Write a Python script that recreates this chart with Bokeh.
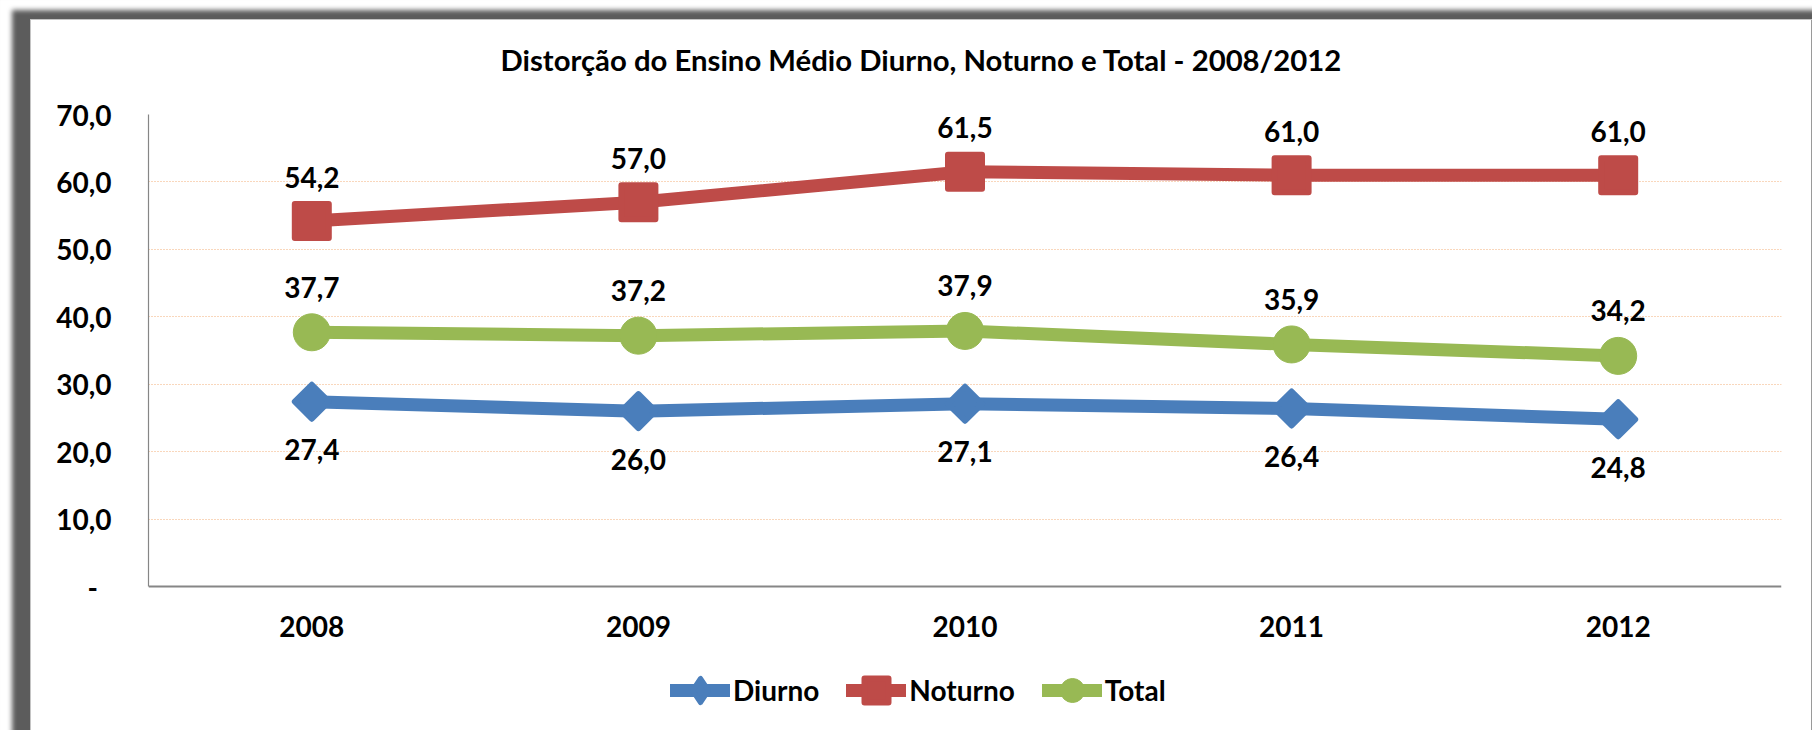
import math
from bokeh.plotting import figure
from bokeh.models import (ColumnDataSource, Range1d, FactorRange, FixedTicker,
                          Legend, LegendItem, Title)
from bokeh.core.properties import value
from bokeh.embed import file_html
from bokeh.resources import INLINE

# ---------------- data ----------------
years = ["2008", "2009", "2010", "2011", "2012"]
diurno = [27.4, 26.0, 27.1, 26.4, 24.8]
noturno = [54.2, 57.0, 61.5, 61.0, 61.0]
total = [37.7, 37.2, 37.9, 35.9, 34.2]
y_ticks = [0, 10, 20, 30, 40, 50, 60, 70]
y_tick_labels = ["-", "10,0", "20,0", "30,0", "40,0", "50,0", "60,0", "70,0"]
series_names = ["Diurno", "Noturno", "Total"]
title_text = "Distorção do Ensino Médio Diurno, Noturno e Total - 2008/2012"

# ---------------- style / layout ----------------
FONT = "Lato"
C_DIU, C_NOT, C_TOT = "#4A7EBB", "#BE4B48", "#98B954"
W, H = 1812, 730
FL, FR, FT = 148, 1781, 114          # frame edges in canvas px
AXIS_Y = 586                         # pixel row of the value 0 (category axis)
Y_MAX = 70
px_per_unit = (AXIS_Y - FT) / Y_MAX
y_lo = -(H - AXIS_Y) / px_per_unit   # frame runs to the bottom so the legend fits


def fmt(v):
    return f"{v:.1f}".replace(".", ",")


def make_source(vals):
    return ColumnDataSource(dict(x=years, y=vals, label=[fmt(v) for v in vals]))


p = figure(width=W, height=H,
           x_range=FactorRange(*years, range_padding=0),
           y_range=Range1d(y_lo, Y_MAX),
           output_backend="svg", toolbar_location=None,
           min_border_left=FL, min_border_right=W - FR,
           min_border_top=FT, min_border_bottom=0)
p.background_fill_color = "white"
p.border_fill_alpha = 0
p.outline_line_color = None
# grey, shadowed chart-frame border (drawn by the page behind the canvas)
p.styles = {
    "background-color": "white",
    "box-shadow": ("inset 12px 10px 5px 0px #ffffff, "
                   "inset 30px 19px 0px 0px #5c5c5c, "
                   "inset 31px 20px 0px 0px #c4c4c4, "
                   "inset -1px 0px 0px 0px #9a9a9a"),
}

# axes
p.yaxis.ticker = FixedTicker(ticks=y_ticks)
p.yaxis.bounds = (0, Y_MAX)
p.yaxis.major_label_overrides = {
    t: (lab if lab != "-" else lab + "\u00a0\u00a0")
    for t, lab in zip(y_ticks, y_tick_labels)
}
p.xaxis.fixed_location = 0
for ax in (p.xaxis[0], p.yaxis[0]):
    ax.major_tick_out = 0
    ax.major_tick_in = 0
    ax.minor_tick_out = 0
    ax.minor_tick_in = 0
    ax.axis_line_color = "#868686"
    ax.major_label_text_font = FONT
    ax.major_label_text_font_style = "bold"
    ax.major_label_text_font_size = "28px"
    ax.major_label_text_color = "black"
p.yaxis.axis_line_width = 1.2
p.xaxis.axis_line_width = 2
p.yaxis.major_label_standoff = 37
p.xaxis.major_label_standoff = 29

p.xgrid.visible = False
p.ygrid.ticker = FixedTicker(ticks=y_ticks[1:])
p.ygrid.grid_line_color = "#F3AE78"
p.ygrid.grid_line_dash = "1 2"
p.ygrid.grid_line_width = 1

# series
s_diu = make_source(diurno)
s_not = make_source(noturno)
s_tot = make_source(total)

line_kw = dict(line_width=13, line_join="round", line_cap="round")
l_diu = p.line("x", "y", source=s_diu, line_color=C_DIU, **line_kw)
l_not = p.line("x", "y", source=s_not, line_color=C_NOT, **line_kw)
l_tot = p.line("x", "y", source=s_tot, line_color=C_TOT, **line_kw)

m_diu = p.scatter("x", "y", source=s_diu, marker="square", angle=math.pi / 4,
                  size=24, fill_color=C_DIU, line_color=C_DIU, line_width=6,
                  line_join="round")
m_diu_leg = p.scatter("x", "y", source=s_diu, marker="diamond", size=24,
                      fill_color=C_DIU, line_color=C_DIU, line_width=5,
                      line_join="round", visible=False)
m_not = p.scatter("x", "y", source=s_not, marker="square", size=34,
                  fill_color=C_NOT, line_color=C_NOT, line_width=6,
                  line_join="round")
m_tot = p.scatter("x", "y", source=s_tot, marker="circle", size=37,
                  fill_color=C_TOT, line_color=C_TOT, line_width=1)

lab_kw = dict(text="label", text_font=value(FONT), text_font_style="bold",
              text_font_size="28px", text_align="center",
              text_baseline="middle", text_color="black")
p.text("x", "y", source=s_not, y_offset=-44, **lab_kw)
p.text("x", "y", source=s_tot, y_offset=-45, **lab_kw)
p.text("x", "y", source=s_diu, y_offset=48, **lab_kw)

# legend (inside the extended plot area, under the category axis)
legend = Legend(items=[
    LegendItem(label=series_names[0], renderers=[l_diu, m_diu_leg]),
    LegendItem(label=series_names[1], renderers=[l_not, m_not]),
    LegendItem(label=series_names[2], renderers=[l_tot, m_tot]),
],
    location=(522, 10), orientation="horizontal",
    glyph_width=60, glyph_height=60, label_standoff=3, spacing=27,
    padding=0, margin=0, border_line_color=None, background_fill_alpha=0,
    label_text_font=FONT, label_text_font_style="bold",
    label_text_font_size="28px", label_text_color="black")
p.add_layout(legend, "center")

# title (a blank spacer keeps it clear of the plot area)
spacer = Title(text=" ", text_font_size="19px")
title = Title(text=title_text, align="left", offset=352,
              text_font=FONT, text_font_style="bold", text_font_size="29.3px",
              text_color="black")
p.add_layout(spacer, "above")
p.add_layout(title, "above")

open("out.html", "w").write(file_html(p, INLINE))
